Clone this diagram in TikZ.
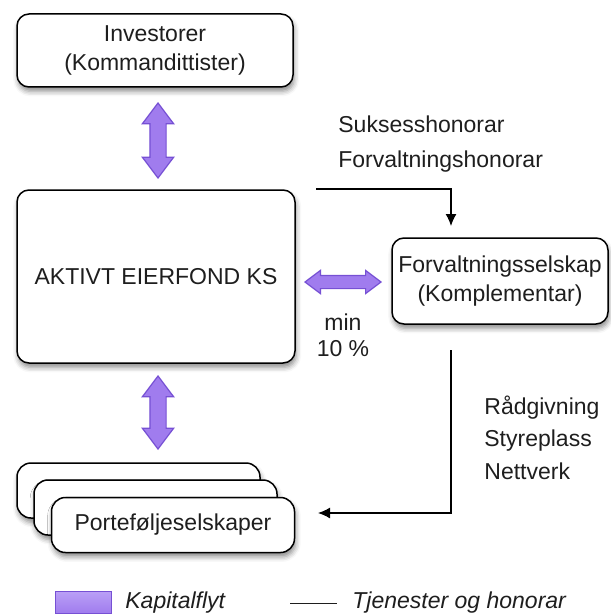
\documentclass[tikz,border=0pt]{standalone}
\usepackage{fontspec}
\setmainfont{Liberation Sans}
\usepackage{tikz}
\usetikzlibrary{calc,positioning,shapes.arrows,arrows.meta,shadows.blur}
\definecolor{flowfill}{RGB}{160,124,238}
\definecolor{flowlight}{RGB}{186,160,246}
\definecolor{flowedge}{RGB}{118,80,212}
\definecolor{inktext}{RGB}{30,30,30}

\begin{document}
\begin{tikzpicture}[x=0.5pt, y=-0.5pt,
 entity/.style={draw=black, line width=0.75pt, fill=white,
          rounded corners=6pt, align=center, inner sep=0pt,
          font=\fontsize{11.5}{14.5}\selectfont, text=inktext,
          blur shadow={shadow xshift=0.6pt, shadow yshift=-2.2pt,
          shadow blur radius=2.5pt, shadow opacity=45}},
 capflow/.style={double arrow, draw=flowedge, fill=flowfill,
          line width=0.6pt, inner xsep=0pt, double arrow tip angle=74},
 service/.style={-{Latex[length=6pt,width=5.5pt]}, draw=black,
          line width=0.65pt},
 note/.style={font=\fontsize{11.5}{14}\selectfont, text=inktext,
          align=left, inner sep=0pt}
]
\useasboundingbox (0,0) rectangle (610,615);
% The fund, its owners and its manager
\node[entity, minimum width=138pt, minimum height=36.5pt] (invest) at (155,50.5)
 {Investorer\\(Kommandittister)};
\node[entity, minimum width=139pt, minimum height=86.5pt] (fund) at (156,276.5)
 {AKTIVT EIERFOND KS};
\node[entity, minimum width=108pt, minimum height=43pt] (manager) at (500,281)
 {Forvaltningsselskap\\(Komplementar)};
% Stack of portfolio companies
\node[entity, minimum width=121.5pt, minimum height=27.5pt, rounded corners=7pt] (stackBack) at (138.5,490.5) {};
\node[entity, minimum width=121.5pt, minimum height=27.5pt, rounded corners=7pt] (stackMid) at (155.5,507.5) {};
\node[entity, minimum width=121.5pt, minimum height=27.5pt, rounded corners=7pt] (stackFront) at (173,525) {Porteføljeselskaper};
% Capital flows
\node[capflow, rotate=90, minimum height=37.5pt, minimum width=15pt,
 inner ysep=3.75pt, double arrow head extend=3.75pt] (flowTop) at (158,140.5) {};
\node[capflow, rotate=90, minimum height=36.5pt, minimum width=15pt,
 inner ysep=3.75pt, double arrow head extend=3.75pt] (flowBottom) at (158,412.5) {};
\node[capflow, minimum height=38pt, minimum width=11pt,
 inner ysep=3pt, double arrow head extend=2.5pt] (flowSide) at (343,282) {};
\node[note, align=center, font=\fontsize{11.5}{13}\selectfont] (minshare) at (343,335) {min\\10 \%};
% Fees and services
\coordinate (feeStart) at (316,189);
\coordinate (feeEnd) at (451,226);
\draw[service] (feeStart) -| (feeEnd);
\node[note, anchor=west, font=\fontsize{11.5}{17.5}\selectfont] (fees) at (338,144.5)
 {Suksesshonorar\\Forvaltningshonorar};
\coordinate (svcStart) at (451,350);
\coordinate (svcEnd) at (318,513);
\draw[service] (svcStart) |- (svcEnd);
\node[note, anchor=west, font=\fontsize{11.5}{16.25}\selectfont] (services) at (484,437.5)
 {Rådgivning\\Styreplass\\Nettverk};
% Legend
\node[draw=flowedge, line width=0.5pt, top color=flowlight, bottom color=flowfill,
 minimum width=28pt, minimum height=11pt, inner sep=0pt] (legendFlow) at (83,602) {};
\node[note, anchor=west, font=\fontsize{11.5}{14}\itshape] (legendFlowText) at (125,603) {Kapitalflyt};
\coordinate (legendLineL) at (290,603);
\coordinate (legendLineR) at (337,603);
\draw[line width=0.5pt, draw=inktext] (legendLineL) -- (legendLineR);
\node[note, anchor=west, font=\fontsize{11.5}{14}\itshape] (legendSvcText) at (352,603) {Tjenester og honorar};
\end{tikzpicture}
\end{document}
